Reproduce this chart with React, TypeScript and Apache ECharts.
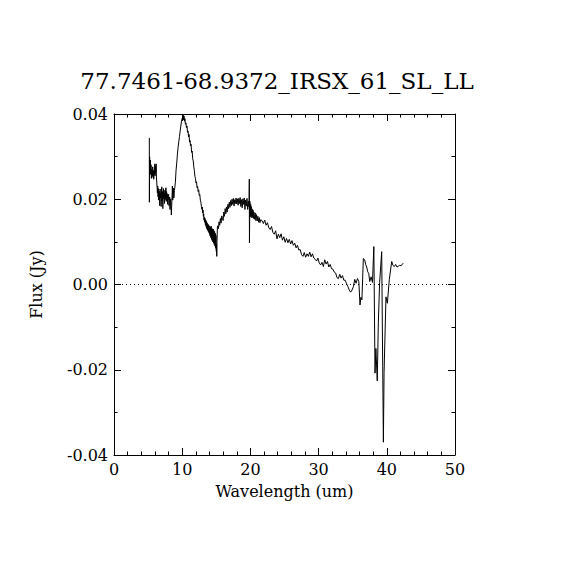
import React, { useEffect, useRef } from "react";
import * as echarts from "echarts";

const TITLE = "77.7461-68.9372_IRSX_61_SL_LL";
const X_NAME = "Wavelength (um)";
const Y_NAME = "Flux (Jy)";
const X_TICKS = [0, 10, 20, 30, 40, 50];
const Y_TICKS = [-0.04, -0.02, 0.0, 0.02, 0.04];

// Segment A: 5.2 - 9.9 um
const waveA = [
  5.18, 5.19, 5.22, 5.28, 5.33, 5.38, 5.43, 5.48, 5.53, 5.58,
  5.63, 5.68, 5.73, 5.78, 5.83, 5.88, 5.93, 5.98, 6.03, 6.08,
  6.13, 6.18, 6.22, 6.27, 6.32, 6.36, 6.41, 6.46, 6.51, 6.56,
  6.61, 6.66, 6.71, 6.76, 6.81, 6.86, 6.91, 6.96, 7.01, 7.06,
  7.11, 7.16, 7.21, 7.26, 7.31, 7.36, 7.41, 7.46, 7.51, 7.56,
  7.61, 7.66, 7.71, 7.76, 7.81, 7.86, 7.91, 7.96, 8.01, 8.06,
  8.11, 8.16, 8.21, 8.26, 8.31, 8.36, 8.41, 8.46, 8.51, 8.56,
  8.61, 8.66, 8.71, 8.78, 8.85, 8.92, 9.0, 9.1, 9.2, 9.3,
  9.4, 9.5, 9.6, 9.7, 9.8, 9.9,
];
const fluxA = [
  0.0344, 0.0193, 0.03, 0.0275, 0.0292, 0.0258, 0.0281, 0.0249, 0.027, 0.0262,
  0.0254, 0.0276, 0.0251, 0.0268, 0.0247, 0.0264, 0.0258, 0.0283, 0.0255, 0.0277,
  0.0262, 0.0283, 0.0252, 0.024, 0.0228, 0.0215, 0.0231, 0.0206, 0.0225, 0.0198,
  0.0219, 0.0212, 0.0185, 0.0224, 0.0203, 0.0215, 0.0183, 0.0212, 0.0229, 0.0196,
  0.0218, 0.0178, 0.0209, 0.0225, 0.0201, 0.0214, 0.019, 0.0221, 0.0199, 0.0212,
  0.0227, 0.0195, 0.0218, 0.0203, 0.0213, 0.0188, 0.0207, 0.0199, 0.0212, 0.0185,
  0.0197, 0.0205, 0.0176, 0.0193, 0.0201, 0.0182, 0.0163, 0.0186, 0.0205, 0.0231,
  0.0198, 0.0212, 0.0226, 0.0203, 0.022, 0.0228, 0.024, 0.0268, 0.0285, 0.0306,
  0.0322, 0.0335, 0.0347, 0.036, 0.0372, 0.0383,
];

// Segment B: 10 - 12.8 um
const waveB = [
  10.0, 10.1, 10.17, 10.22, 10.27, 10.33, 10.4, 10.47, 10.55, 10.62,
  10.7, 10.78, 10.86, 10.93, 11.0, 11.08, 11.15, 11.22, 11.3, 11.38,
  11.46, 11.54, 11.62, 11.7, 11.78, 11.86, 11.94, 12.02, 12.1, 12.18,
  12.26, 12.34, 12.42, 12.5, 12.58, 12.66, 12.74, 12.82,
];
const fluxB = [
  0.039, 0.0393, 0.0397, 0.0386, 0.0395, 0.0383, 0.0389, 0.0376, 0.0379, 0.0368,
  0.0372, 0.0357, 0.036, 0.0346, 0.0352, 0.0334, 0.0338, 0.0325, 0.0329, 0.031,
  0.0313, 0.0295, 0.029, 0.0276, 0.0268, 0.0254, 0.0249, 0.0238, 0.0241, 0.0227,
  0.023, 0.0218, 0.0222, 0.0209, 0.0211, 0.0198, 0.0193, 0.0183,
];

// Segment C: 12.9 - 15.2 um
const waveC = [
  12.9, 12.95, 13.0, 13.05, 13.1, 13.15, 13.2, 13.25, 13.3, 13.35,
  13.4, 13.45, 13.5, 13.55, 13.6, 13.65, 13.7, 13.75, 13.8, 13.85,
  13.9, 13.95, 14.0, 14.05, 14.1, 14.15, 14.2, 14.25, 14.3, 14.35,
  14.4, 14.45, 14.5, 14.55, 14.6, 14.65, 14.7, 14.75, 14.8, 14.85,
  14.9, 14.95, 15.0, 15.04, 15.07, 15.1, 15.16,
];
const fluxC = [
  0.0176, 0.0182, 0.0168, 0.0175, 0.016, 0.0166, 0.0151, 0.0158, 0.0146, 0.0155,
  0.014, 0.0151, 0.0136, 0.0148, 0.0131, 0.0145, 0.0128, 0.0142, 0.0125, 0.014,
  0.0122, 0.0138, 0.0118, 0.0136, 0.0114, 0.0134, 0.011, 0.0137, 0.0106, 0.0132,
  0.0103, 0.0129, 0.01, 0.013, 0.0097, 0.0126, 0.0094, 0.0124, 0.009, 0.012,
  0.0085, 0.0115, 0.0078, 0.0095, 0.0066, 0.01, 0.0135,
];

// Segment D: 15.2 - 19.9 um
const waveD = [
  15.24, 15.32, 15.4, 15.5, 15.6, 15.7, 15.8, 15.9, 16.0, 16.1,
  16.2, 16.3, 16.4, 16.5, 16.6, 16.7, 16.8, 16.9, 17.0, 17.1,
  17.2, 17.3, 17.4, 17.5, 17.6, 17.7, 17.8, 17.9, 18.0, 18.1,
  18.2, 18.3, 18.4, 18.5, 18.6, 18.7, 18.8, 18.9, 19.0, 19.1,
  19.2, 19.3, 19.4, 19.5, 19.6, 19.7, 19.8, 19.84, 19.86,
];
const fluxD = [
  0.0138, 0.0131, 0.0147, 0.0139, 0.0155, 0.0144, 0.0161, 0.0155, 0.015, 0.017,
  0.016, 0.0178, 0.0166, 0.0182, 0.017, 0.0188, 0.0178, 0.0193, 0.0181, 0.0197,
  0.0185, 0.02, 0.0188, 0.0202, 0.0184, 0.0199, 0.019, 0.0203, 0.0189, 0.0201,
  0.0186, 0.0202, 0.019, 0.0204, 0.0183, 0.0199, 0.018, 0.0201, 0.0188, 0.0203,
  0.0176, 0.0198, 0.0184, 0.0202, 0.0176, 0.0196, 0.0182, 0.0247, 0.0098,
];

// Segment E: 19.9 - 21.5 um
const waveE = [
  19.92, 20.0, 20.04, 20.08, 20.12, 20.16, 20.2, 20.24, 20.28, 20.32,
  20.4, 20.45, 20.5, 20.6, 20.7, 20.8, 20.9, 21.0, 21.1, 21.2,
  21.3, 21.4, 21.5,
];
const fluxE = [
  0.0195, 0.016, 0.0188, 0.0158, 0.0183, 0.0163, 0.0178, 0.0156, 0.0176, 0.016,
  0.0174, 0.0155, 0.017, 0.0153, 0.0168, 0.015, 0.0164, 0.0149, 0.016, 0.0146,
  0.0157, 0.0145, 0.0152,
];

// Segment F: 21.7 - 35.9 um
const waveF = [
  21.7, 21.9, 22.1, 22.3, 22.5, 22.7, 22.9, 23.1, 23.3, 23.5,
  23.7, 23.9, 24.1, 24.3, 24.5, 24.7, 24.9, 25.1, 25.3, 25.5,
  25.7, 25.9, 26.1, 26.3, 26.5, 26.7, 26.9, 27.1, 27.3, 27.5,
  27.7, 27.9, 28.1, 28.3, 28.5, 28.7, 28.9, 29.1, 29.3, 29.5,
  29.7, 29.9, 30.1, 30.3, 30.5, 30.7, 30.9, 31.1, 31.3, 31.5,
  31.7, 31.9, 32.1, 32.3, 32.5, 32.7, 32.9, 33.1, 33.3, 33.5,
  33.7, 33.9, 34.1, 34.3, 34.5, 34.7, 34.9, 35.1, 35.3, 35.5,
  35.7, 35.9,
];
const fluxF = [
  0.015, 0.0143, 0.0151, 0.0139, 0.0145, 0.0133, 0.0129, 0.0136, 0.0122, 0.0118,
  0.0126, 0.0107, 0.0118, 0.011, 0.0119, 0.0104, 0.0112, 0.0099, 0.0108, 0.0098,
  0.0106, 0.0095, 0.0103, 0.0092, 0.0097, 0.0086, 0.0092, 0.0081, 0.0082, 0.007,
  0.0066, 0.0075, 0.0064, 0.0072, 0.0066, 0.0076, 0.0065, 0.0072, 0.0062, 0.0059,
  0.0055, 0.0062, 0.005, 0.0046, 0.0052, 0.0042, 0.0058, 0.0048, 0.0054, 0.0041,
  0.0047, 0.0037, 0.0036, 0.0029, 0.0027, 0.0016, 0.0014, 0.0024, 0.0015, 0.0021,
  0.001, 0.001, 0.0002, -0.0005, -0.0013, -0.0018, -0.0013, -0.0005, 0.0012, 0.0003,
  0.0014, 0.0007,
];

// Segment G: 36 - 42.4 um
const waveG = [
  36.07, 36.2, 36.35, 36.56, 36.75, 36.9, 37.05, 37.2, 37.35, 37.5,
  37.7, 37.9, 38.1, 38.27, 38.4, 38.6, 38.76, 38.95, 39.25, 39.4,
  39.5, 39.6, 39.88, 40.08, 40.37, 40.72, 40.9, 41.1, 41.3, 41.5,
  41.7, 41.9, 42.1, 42.4,
];
const fluxG = [
  -0.0048, -0.003, -0.0036, 0.0061, 0.0058, 0.0047, 0.0041, 0.003, 0.0026, 0.0007,
  0.0018, 0.0005, 0.0089, -0.0208, -0.015, -0.0226, -0.009, 0.0005, 0.0077, -0.0193,
  -0.037, -0.0206, -0.0029, -0.0044, 0.0012, 0.0054, 0.0045, 0.0042, 0.0047, 0.0041,
  0.0043, 0.0045, 0.0044, 0.005,
];

const wavelength = [...waveA, ...waveB, ...waveC, ...waveD, ...waveE, ...waveF, ...waveG];
const flux = [...fluxA, ...fluxB, ...fluxC, ...fluxD, ...fluxE, ...fluxF, ...fluxG];

const FONT = "DejaVu Serif";

export default function App() {
  const ref = useRef<HTMLDivElement>(null);
  useEffect(() => {
    if (!ref.current) return;
    const chart = echarts.init(ref.current, undefined, { renderer: "svg" });
    const data = wavelength.map((w, i) => [w, flux[i]]);
    const xMin = X_TICKS[0];
    const xMax = X_TICKS[X_TICKS.length - 1];
    const xInt = X_TICKS[1] - X_TICKS[0];
    const yMin = Y_TICKS[0];
    const yMax = Y_TICKS[Y_TICKS.length - 1];
    const yInt = Y_TICKS[1] - Y_TICKS[0];
    const axisLine = { show: true, onZero: false, lineStyle: { color: "#000", width: 1 } };
    const tick = { show: true, inside: true, length: 7, lineStyle: { color: "#000", width: 1 } };
    const labelStyle = { color: "#000", fontFamily: FONT, fontSize: 16 };
    chart.setOption({
      animation: false,
      backgroundColor: "#fff",
      grid: { left: 114, top: 114, width: 341, height: 341, containLabel: false },
      graphic: [
        {
          type: "text",
          x: 277,
          y: 92,
          style: {
            text: TITLE,
            fill: "#000",
            font: `23px "${FONT}"`,
            textAlign: "center",
            textVerticalAlign: "bottom",
          },
        },
      ],
      xAxis: [
        {
          type: "value",
          min: xMin,
          max: xMax,
          interval: xInt,
          position: "bottom",
          name: X_NAME,
          nameLocation: "middle",
          nameGap: 28,
          nameTextStyle: labelStyle,
          axisLine,
          axisTick: tick,
          minorTick: { show: true, splitNumber: 5, length: 3.5, lineStyle: { color: "#000" } },
          axisLabel: { ...labelStyle, margin: 6, formatter: (v: number) => String(v) },
          splitLine: { show: false },
        },
        {
          type: "value",
          min: xMin,
          max: xMax,
          interval: xInt,
          position: "top",
          axisLine,
          axisTick: tick,
          minorTick: { show: true, splitNumber: 5, length: 3.5, lineStyle: { color: "#000" } },
          axisLabel: { show: false },
          splitLine: { show: false },
        },
      ],
      yAxis: [
        {
          type: "value",
          min: yMin,
          max: yMax,
          interval: yInt,
          position: "left",
          name: Y_NAME,
          nameLocation: "middle",
          nameGap: 70,
          nameTextStyle: labelStyle,
          axisLine,
          axisTick: tick,
          minorTick: { show: true, splitNumber: 2, length: 3.5, lineStyle: { color: "#000" } },
          axisLabel: { ...labelStyle, margin: 6, formatter: (v: number) => v.toFixed(2) },
          splitLine: { show: false },
        },
        {
          type: "value",
          min: yMin,
          max: yMax,
          interval: yInt,
          position: "right",
          axisLine,
          axisTick: tick,
          minorTick: { show: true, splitNumber: 2, length: 3.5, lineStyle: { color: "#000" } },
          axisLabel: { show: false },
          splitLine: { show: false },
        },
      ],
      series: [
        {
          type: "line",
          xAxisIndex: 0,
          yAxisIndex: 0,
          data,
          showSymbol: false,
          symbol: "none",
          lineStyle: { color: "#000", width: 1 },
          markLine: {
            silent: true,
            symbol: "none",
            label: { show: false },
            lineStyle: { color: "#000", width: 1, type: [1, 3] },
            data: [{ yAxis: 0 }],
          },
        },
      ],
    });
    return () => chart.dispose();
  }, []);
  return (
    <div
      ref={ref}
      style={{ position: "absolute", left: 0, top: 0, width: 570, height: 570, background: "#fff" }}
    />
  );
}
